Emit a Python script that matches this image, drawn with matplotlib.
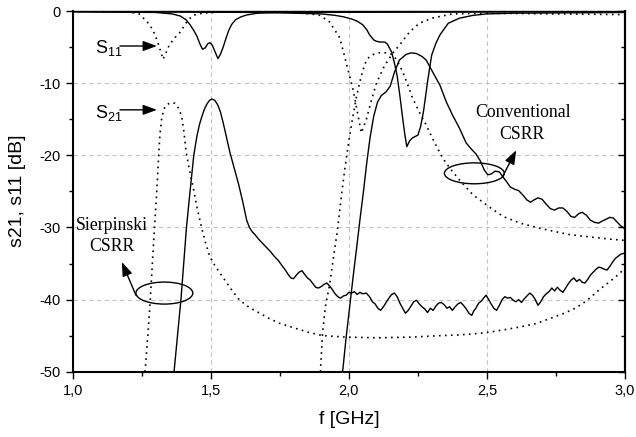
import matplotlib
matplotlib.use("Agg")
import matplotlib.pyplot as plt
from matplotlib.patches import Ellipse
from matplotlib.ticker import MultipleLocator, FuncFormatter, FixedLocator

plt.rcParams['font.family'] = ['Liberation Sans', 'DejaVu Sans']
plt.rcParams['mathtext.default'] = 'regular'

# ---------------- data ----------------
# Sierpinski CSRR, measured (solid)
sier_meas_s11_f = [1.00, 1.30, 1.36, 1.39, 1.41, 1.425, 1.44, 1.45, 1.46, 1.47, 1.48, 1.49, 1.497,
                   1.505, 1.515, 1.526, 1.535, 1.545, 1.555, 1.565, 1.575, 1.59, 1.61, 1.63, 1.67, 1.75, 3.00]
sier_meas_s11_db = [-0.1, -0.2, -0.4, -0.7, -1.2, -1.9, -2.8, -3.5, -4.5, -5.3, -5.1, -4.5, -4.4,
                    -4.7, -5.6, -6.6, -6.0, -5.0, -3.8, -2.7, -1.9, -1.2, -0.8, -0.55, -0.3, -0.2, -0.1]

sier_meas_s21_f = [1.360, 1.367, 1.380, 1.392, 1.402, 1.412, 1.425, 1.4385, 1.450, 1.460, 1.468, 1.477,
                   1.486, 1.495, 1.505, 1.515, 1.525, 1.535, 1.545, 1.557, 1.570,
                   1.585, 1.600, 1.615, 1.630, 1.640, 1.650, 1.660, 1.675, 1.690, 1.700, 1.715, 1.730,
                   1.745, 1.760, 1.770, 1.780, 1.790, 1.800, 1.810, 1.820, 1.830, 1.840, 1.850, 1.860,
                   1.870, 1.880, 1.890, 1.900, 1.910, 1.920, 1.930, 1.940, 1.950, 1.960, 1.970, 1.980,
                   1.990, 2.000, 2.010, 2.020, 2.030, 2.040, 2.050, 2.063, 2.075, 2.085, 2.095, 2.105,
                   2.115, 2.125, 2.135, 2.145, 2.155, 2.165, 2.175, 2.185, 2.195, 2.205, 2.215, 2.225,
                   2.235, 2.245, 2.255, 2.265, 2.275, 2.285, 2.295, 2.305, 2.315, 2.325, 2.335, 2.345,
                   2.355, 2.365, 2.375, 2.385, 2.395, 2.405, 2.415, 2.425, 2.435, 2.445, 2.452, 2.460,
                   2.470, 2.480, 2.490, 2.497, 2.505, 2.515, 2.525, 2.535, 2.545, 2.555, 2.565, 2.575,
                   2.585, 2.595, 2.605, 2.615, 2.625, 2.635, 2.645, 2.655, 2.665, 2.675, 2.685, 2.695,
                   2.705, 2.715, 2.725, 2.735, 2.745, 2.755, 2.765, 2.775, 2.785, 2.795, 2.805, 2.815,
                   2.825, 2.835, 2.845, 2.855, 2.865, 2.875, 2.885, 2.895, 2.905, 2.915, 2.925, 2.935,
                   2.945, 2.955, 2.965, 2.975, 2.985, 2.995, 3.000]
sier_meas_s21_db = [-55.0, -50.0, -44.8, -40.0, -35.0, -30.0, -25.0, -20.0, -17.3, -15.6, -14.6, -13.6,
                    -12.9, -12.4, -12.2, -12.4, -13.0, -14.0, -15.5, -17.5, -19.7,
                    -21.8, -23.9, -26.3, -29.0, -30.0, -30.6, -31.0, -31.7, -32.3, -32.7, -33.3, -34.0,
                    -34.6, -35.4, -35.9, -36.5, -37.0, -37.1, -36.6, -36.2, -36.0, -36.5, -37.0, -37.3,
                    -37.8, -38.3, -38.4, -38.2, -37.9, -37.7, -38.1, -38.6, -39.2, -39.6, -39.8, -39.5,
                    -39.4, -39.0, -39.1, -38.9, -39.3, -39.0, -39.2, -39.1, -39.6, -40.3, -40.6, -41.2,
                    -41.5, -41.0, -40.4, -39.8, -39.3, -39.1, -39.6, -40.5, -41.2, -41.9, -41.5, -40.9,
                    -40.3, -40.1, -40.6, -41.0, -41.3, -41.8, -41.2, -41.5, -40.9, -40.5, -40.4, -40.7,
                    -41.2, -41.0, -41.5, -41.0, -40.6, -40.4, -40.8, -41.3, -41.9, -42.2, -41.6, -41.2,
                    -40.5, -40.2, -39.7, -39.4, -39.9, -40.6, -41.2, -41.5, -40.8, -40.0, -39.6, -39.8,
                    -39.7, -40.1, -40.3, -40.0, -40.4, -39.9, -39.5, -39.1, -39.4, -40.0, -40.8, -40.3,
                    -39.6, -39.2, -38.9, -38.4, -38.8, -38.3, -38.7, -39.0, -38.4, -37.8, -37.3, -37.0,
                    -37.5, -37.2, -37.6, -37.7, -37.2, -36.6, -36.2, -35.8, -35.5, -35.6, -35.8, -35.9,
                    -35.4, -34.8, -34.3, -34.0, -33.7, -33.6, -33.6]

# Sierpinski CSRR, simulated (dotted)
sier_sim_s11_f = [1.00, 1.20, 1.24, 1.27, 1.29, 1.305, 1.318, 1.327, 1.34, 1.35, 1.37, 1.39, 1.413,
                  1.435, 1.47, 1.55, 3.00]
sier_sim_s11_db = [0.0, -0.1, -0.4, -1.5, -2.6, -4.0, -5.5, -6.7, -5.6, -4.7, -3.7, -2.9, -1.5,
                   -0.6, -0.3, -0.1, 0.0]

sier_sim_s21_f = [1.255, 1.262, 1.268, 1.275, 1.281, 1.290, 1.297, 1.303, 1.310, 1.316, 1.322, 1.330,
                  1.340, 1.350, 1.360, 1.370, 1.378, 1.387, 1.395, 1.403, 1.410, 1.420, 1.436, 1.450,
                  1.466, 1.480, 1.496, 1.515, 1.533, 1.560, 1.580, 1.605, 1.640, 1.678, 1.710,
                  1.750, 1.800, 1.850, 1.905, 1.990, 2.100, 2.230, 2.330, 2.400, 2.470, 2.510, 2.560,
                  2.620, 2.680, 2.730, 2.780, 2.820, 2.860, 2.905, 2.935, 2.965, 2.985, 3.000]
sier_sim_s21_db = [-55.0, -50.0, -47.0, -43.5, -40.0, -34.0, -29.5, -26.0, -21.0, -17.0, -15.0, -13.6,
                   -13.0, -12.8, -12.7, -12.8, -13.1, -13.8, -14.7, -16.8, -19.3, -21.5, -24.4, -27.2,
                   -29.9, -32.0, -34.0, -35.3, -36.3, -37.8, -38.9, -40.1, -41.1, -41.9, -42.6,
                   -43.3, -43.9, -44.5, -45.0, -45.2, -45.3, -45.2, -45.0, -44.9, -44.7, -44.5, -44.2,
                   -43.8, -43.3, -42.6, -41.9, -41.2, -40.2, -38.7, -37.8, -36.9, -36.2, -35.6]

# Conventional CSRR, measured (solid)
conv_meas_s11_f = [1.00, 1.70, 1.80, 1.85, 1.90, 1.95, 1.98, 2.01, 2.03, 2.05, 2.065, 2.075, 2.09, 2.10,
                   2.115, 2.13, 2.14, 2.155, 2.165, 2.175, 2.185, 2.195, 2.203, 2.21, 2.22, 2.23, 2.25,
                   2.26, 2.27, 2.278, 2.285, 2.293, 2.30, 2.315, 2.33, 2.36, 2.40, 2.45, 2.50, 2.60, 3.00]
conv_meas_s11_db = [-0.1, -0.2, -0.3, -0.35, -0.4, -0.6, -0.8, -1.1, -1.4, -1.9, -2.6, -3.3, -4.0, -4.2,
                    -4.3, -4.3, -4.6, -5.7, -7.2, -9.0, -11.8, -14.9, -17.2, -18.8, -18.0, -17.6, -17.2,
                    -16.0, -14.0, -11.8, -9.8, -7.8, -6.1, -4.5, -3.3, -1.7, -1.0, -0.6, -0.4, -0.3, -0.2]

conv_meas_s21_f = [1.965, 1.978, 1.990, 2.003, 2.015, 2.027, 2.040, 2.053, 2.065, 2.077, 2.090, 2.104,
                   2.118, 2.135, 2.150, 2.165, 2.183, 2.208, 2.226, 2.245, 2.265, 2.280, 2.300, 2.330,
                   2.353, 2.375, 2.400, 2.425, 2.445, 2.460, 2.475, 2.490, 2.503, 2.515, 2.530, 2.545,
                   2.558, 2.570, 2.585, 2.600, 2.615, 2.630, 2.645, 2.658, 2.670, 2.685, 2.700, 2.715,
                   2.730, 2.745, 2.760, 2.775, 2.790, 2.805, 2.818, 2.832, 2.845, 2.860, 2.875, 2.890,
                   2.905, 2.918, 2.930, 2.945, 2.958, 2.970, 2.985, 3.000]
conv_meas_s21_db = [-55.0, -49.8, -45.3, -41.0, -37.0, -33.2, -29.0, -25.0, -21.0, -17.5, -14.6, -12.6,
                    -11.7, -11.2, -10.4, -8.5, -6.8, -6.0, -5.8, -5.9, -6.3, -6.8, -8.2, -10.3,
                    -12.6, -14.4, -16.2, -18.3, -19.2, -19.8, -20.7, -22.0, -22.7, -22.6, -22.2, -22.3,
                    -23.0, -23.6, -24.4, -24.7, -24.9, -25.5, -26.2, -26.5, -26.2, -25.9, -26.1, -26.8,
                    -27.4, -27.6, -27.3, -27.3, -27.8, -28.5, -28.6, -28.1, -27.9, -28.3, -29.0, -29.3,
                    -29.4, -29.1, -28.9, -28.6, -28.7, -29.2, -29.8, -30.2]

# Conventional CSRR, simulated (dotted)
conv_sim_s11_f = [1.00, 1.80, 1.86, 1.895, 1.93, 1.967, 1.99, 2.014, 2.028, 2.045, 2.063, 2.08, 2.10,
                  2.13, 2.16, 2.19, 2.22, 2.255, 2.30, 2.375, 2.50, 3.00]
conv_sim_s11_db = [0.0, -0.2, -0.4, -0.6, -1.5, -3.7, -7.1, -10.7, -13.4, -16.9, -15.1, -12.6, -10.0,
                   -7.5, -5.8, -4.4, -2.9, -1.7, -1.0, -0.4, -0.3, -0.5]

conv_sim_s21_f = [1.890, 1.897, 1.905, 1.915, 1.930, 1.945, 1.960, 1.972, 1.985, 2.000, 2.013, 2.027,
                  2.040, 2.050, 2.062, 2.075, 2.090, 2.110, 2.135, 2.155, 2.170, 2.185, 2.200, 2.215,
                  2.230, 2.255, 2.280, 2.310, 2.340, 2.370, 2.400, 2.450, 2.510, 2.560, 2.620, 2.690,
                  2.750, 2.800, 2.870, 2.940, 3.000]
conv_sim_s21_db = [-55.0, -50.0, -44.5, -41.0, -38.0, -34.0, -30.0, -26.0, -22.0, -18.0, -15.0, -12.0,
                   -9.8, -8.3, -7.0, -6.3, -6.0, -5.8, -5.8, -6.0, -6.6, -7.6, -8.9, -10.4,
                   -12.0, -14.0, -15.8, -18.2, -20.4, -22.0, -23.4, -25.5, -27.2, -28.5, -29.4, -30.1,
                   -30.6, -31.0, -31.3, -31.6, -31.8]

x_ticks = [1.0, 1.5, 2.0, 2.5, 3.0]
y_ticks = [-50, -40, -30, -20, -10, 0]

# ---------------- figure ----------------
fig = plt.figure(figsize=(6.36, 4.37), dpi=100)
ax = fig.add_axes([0.1143, 0.1494, 0.8684, 0.8254])

dot = (0, (1, 2.6))
ax.plot(sier_sim_s11_f, sier_sim_s11_db, color='k', lw=1.2, ls=dot)
ax.plot(sier_sim_s21_f, sier_sim_s21_db, color='k', lw=1.2, ls=dot)
ax.plot(conv_sim_s11_f, conv_sim_s11_db, color='k', lw=1.2, ls=dot)
ax.plot(conv_sim_s21_f, conv_sim_s21_db, color='k', lw=1.2, ls=dot)
ax.plot(sier_meas_s11_f, sier_meas_s11_db, color='k', lw=1.0)
ax.plot(sier_meas_s21_f, sier_meas_s21_db, color='k', lw=1.0)
ax.plot(conv_meas_s11_f, conv_meas_s11_db, color='k', lw=1.0)
ax.plot(conv_meas_s21_f, conv_meas_s21_db, color='k', lw=1.0)

ax.set_xlim(1.0, 3.0)
ax.set_ylim(-50, 0)

ax.xaxis.set_major_locator(FixedLocator(x_ticks))
ax.xaxis.set_minor_locator(MultipleLocator(0.25))
ax.yaxis.set_major_locator(FixedLocator(y_ticks))
ax.yaxis.set_minor_locator(MultipleLocator(5))
ax.xaxis.set_major_formatter(FuncFormatter(lambda v, p: f"{v:.1f}".replace('.', ',')))
ax.yaxis.set_major_formatter(FuncFormatter(lambda v, p: f"{int(round(v))}"))

ax.tick_params(which='major', direction='out', length=5, width=1.0, labelsize=10.5, pad=3.5)
ax.tick_params(which='minor', direction='out', length=3, width=1.0)
ax.tick_params(top=False, right=False, which='both')

sec = ax.secondary_yaxis('right')
sec.yaxis.set_major_locator(FixedLocator(y_ticks))
sec.yaxis.set_minor_locator(MultipleLocator(5))
sec.tick_params(which='major', direction='in', length=5, width=1.0, labelright=False)
sec.tick_params(which='minor', direction='in', length=3, width=1.0)
sec.spines['right'].set_linewidth(1.5)

for s in ['left', 'bottom', 'right']:
    ax.spines[s].set_linewidth(1.5)
ax.spines['top'].set_linewidth(1.0)

for xv in [1.5, 2.0, 2.5]:
    ax.axvline(xv, color='#c4c4c4', lw=0.8, ls=(0, (4, 3)), zorder=0)
for yv in [-10, -20, -30, -40]:
    ax.axhline(yv, color='#c4c4c4', lw=0.8, ls=(0, (4, 3)), zorder=0)

# S-parameter labels with arrows
arr = dict(arrowstyle='-|>,head_length=0.6,head_width=0.22', mutation_scale=14,
           lw=1.0, color='k', shrinkA=0, shrinkB=0)
ax.text(1.081, -5.83, r'S$_{11}$', fontsize=13, ha='left', va='baseline')
ax.annotate('', xy=(1.305, -4.85), xytext=(1.171, -4.85), arrowprops=arr)
ax.text(1.081, -14.84, r'S$_{21}$', fontsize=13, ha='left', va='baseline')
ax.annotate('', xy=(1.305, -13.7), xytext=(1.171, -13.7), arrowprops=arr)

serif = ['Liberation Serif', 'DejaVu Serif']
ax.text(1.143, -29.7, 'Sierpinski', family=serif, fontsize=12.8, ha='center', va='center')
ax.text(1.143, -32.6, 'CSRR', family=serif, fontsize=12.8, ha='center', va='center')
ax.add_patch(Ellipse((1.332, -39.1), 0.206, 3.05, fill=False, lw=1.0, color='k'))
ax.annotate('', xy=(1.178, -34.8), xytext=(1.229, -39.4), arrowprops=arr)

ax.text(2.632, -14.1, 'Conventional', family=serif, fontsize=12.8, ha='center', va='center')
ax.text(2.625, -17.1, 'CSRR', family=serif, fontsize=12.8, ha='center', va='center')
ax.add_patch(Ellipse((2.4545, -22.5), 0.217, 2.9, fill=False, lw=1.0, color='k'))
ax.annotate('', xy=(2.606, -19.3), xytext=(2.556, -23.0), arrowprops=arr)

fig.text(18 / 636, 1 - 191 / 437, 's21, s11 [dB]', rotation=90, fontsize=14,
         ha='center', va='center')
fig.text(349 / 636, 1 - 420 / 437, 'f [GHz]', fontsize=14, ha='center', va='center')

fig.savefig('out.png', dpi=100)
